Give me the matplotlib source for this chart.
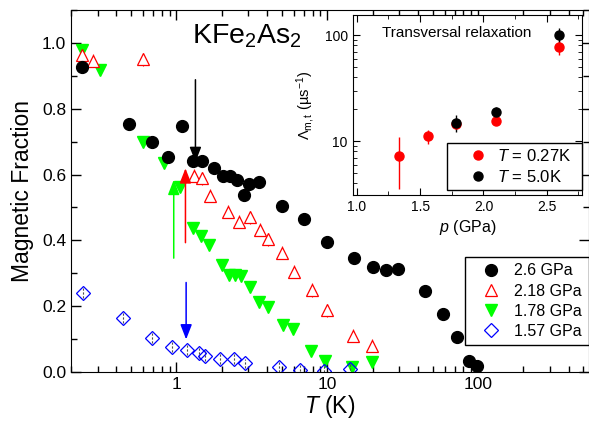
import numpy as np
import matplotlib.pyplot as plt
from matplotlib.ticker import FixedLocator, LogLocator, MultipleLocator, NullFormatter

plt.rcParams['font.family'] = ['Liberation Sans', 'DejaVu Sans']
plt.rcParams['mathtext.fontset'] = 'custom'
plt.rcParams['mathtext.rm'] = 'Liberation Sans'
plt.rcParams['mathtext.it'] = 'Liberation Sans:italic'
plt.rcParams['mathtext.bf'] = 'Liberation Sans:bold'

# magnetic fraction vs temperature, one set per pressure
T_260 = [0.238, 0.487, 0.690, 0.875, 1.091, 1.283, 1.482, 1.769, 2.030, 2.274, 2.531,
         2.801, 3.022, 3.507, 5.04, 6.98, 10.03, 15.0, 20.2, 24.7, 29.5, 44.4, 58.8,
         72.9, 87.1, 98.0]
mf_260 = [0.928, 0.755, 0.700, 0.653, 0.748, 0.641, 0.641, 0.619, 0.597, 0.597, 0.584,
          0.538, 0.570, 0.577, 0.505, 0.464, 0.396, 0.345, 0.320, 0.310, 0.312, 0.246,
          0.176, 0.105, 0.034, 0.019]

T_218 = [0.237, 0.278, 0.597, 1.317, 1.482, 1.670, 2.193, 2.594, 3.089, 3.561, 4.044,
         5.04, 5.99, 7.97, 9.97, 14.8, 19.7]
mf_218 = [0.963, 0.946, 0.950, 0.596, 0.589, 0.536, 0.487, 0.457, 0.470, 0.432, 0.403,
          0.363, 0.305, 0.249, 0.188, 0.110, 0.080]

T_178 = [0.237, 0.311, 0.597, 0.832, 1.058, 1.283, 1.459, 1.657, 2.012, 2.226, 2.429,
         2.691, 3.055, 3.523, 4.044, 5.09, 5.93, 7.8, 9.7, 14.7, 19.8]
mf_178 = [0.979, 0.918, 0.700, 0.634, 0.561, 0.437, 0.413, 0.386, 0.325, 0.295, 0.295,
          0.292, 0.259, 0.214, 0.197, 0.143, 0.130, 0.063, 0.034, 0.016, 0.031]

T_157 = [0.241, 0.440, 0.690, 0.936, 1.178, 1.422, 1.558, 1.951, 2.392, 2.861, 4.78,
         6.64, 9.48, 14.1]
mf_157 = [0.239, 0.165, 0.102, 0.077, 0.067, 0.059, 0.049, 0.039, 0.039, 0.026, 0.016,
          0.006, 0.004, 0.008]

# transition arrows: (T, tail, head, colour)
arrows = [(1.337, 0.888, 0.638, 'black'),
          (1.148, 0.393, 0.619, 'red'),
          (0.96, 0.346, 0.584, '#00ff00'),
          (1.16, 0.272, 0.099, 'blue')]

# inset: transversal relaxation rate vs pressure
p_027 = [1.33, 1.56, 1.78, 2.10, 2.60]
lam_027 = [7.2, 11.1, 14.4, 15.5, 77.6]
err_027 = [3.7, 1.7, 1.5, 1.0, 12.5]
p_50 = [1.78, 2.10, 2.60]
lam_50 = [14.9, 18.7, 100.0]
err_50 = [2.8, 2.3, 17.0]

fig = plt.figure(figsize=(5.89, 4.24), dpi=100)
ax = fig.add_axes([71 / 589, 52 / 424, 517.5 / 589, 362 / 424])

green = '#00ff00'
ax.errorbar(T_178, mf_178, yerr=0.015, fmt='none', ecolor=green, elinewidth=0.8)
h178, = ax.plot(T_178, mf_178, 'v', color=green, ms=8.5, mec=green, ls='none',
                label='1.78 GPa')
ax.errorbar(T_218, mf_218, yerr=0.02, fmt='none', ecolor='red', elinewidth=0.8)
h218, = ax.plot(T_218, mf_218, '^', mfc='white', mec='red', mew=0.9, ms=9, ls='none',
                label='2.18 GPa')
h260, = ax.plot(T_260, mf_260, 'o', color='black', ms=8.5, ls='none', label='2.6 GPa')
eb = ax.errorbar(T_157, mf_157, yerr=0.015, fmt='none', ecolor='0.3', elinewidth=0.8)
eb[2][0].set_linestyle((0, (2, 1.5)))
h157, = ax.plot(T_157, mf_157, 'D', mfc='none', mec='blue', mew=0.9, ms=7.5, ls='none',
                label='1.57 GPa')

for t, y0, y1, c in arrows:
    ax.annotate('', xy=(t, y1), xytext=(t, y0),
                arrowprops=dict(arrowstyle='-|>,head_length=0.9,head_width=0.35',
                                color=c, lw=1.1, shrinkA=0, shrinkB=0))

ax.set_xscale('log')
ax.set_xlim(0.2, 540)
ax.set_ylim(0, 1.1)
ax.xaxis.set_major_locator(FixedLocator([1, 10, 100]))
ax.set_xticklabels(['1', '10', '100'])
ax.xaxis.set_minor_locator(LogLocator(base=10, subs=np.arange(2, 10)))
ax.xaxis.set_minor_formatter(NullFormatter())
ax.yaxis.set_minor_locator(MultipleLocator(0.1))
ax.set_yticks([0, 0.2, 0.4, 0.6, 0.8, 1.0])
ax.set_yticklabels(['0.0', '0.2', '0.4', '0.6', '0.8', '1.0'])
ax.tick_params(which='both', direction='in', top=True, right=True, labelsize=12.5)
ax.tick_params(which='major', length=7, width=1)
ax.tick_params(which='minor', length=4, width=1)
ax.set_xlabel('$T$ (K)', fontsize=16.5, labelpad=1)
ax.set_ylabel('Magnetic Fraction', fontsize=16.5, labelpad=6)

fig.text(192 / 589, 1 - 43 / 424, 'KFe$_2$As$_2$', fontsize=20.5, va='baseline')

ax.legend(handles=[h260, h218, h178, h157], loc='upper right',
          bbox_to_anchor=(1.0, 0.318), borderaxespad=0, fontsize=11.5,
          frameon=True, fancybox=False, edgecolor='black', framealpha=1,
          handlelength=2.5, handletextpad=0.2, labelspacing=0.33, borderpad=0.4)

# inset
ins = fig.add_axes([352.7 / 589, 229 / 424, 229.6 / 589, 180 / 424])
ins.errorbar(p_027, lam_027, yerr=err_027, fmt='none', ecolor='red', elinewidth=1)
ins.errorbar(p_50, lam_50, yerr=err_50, fmt='none', ecolor='black', elinewidth=1)
l027, = ins.plot(p_027, lam_027, 'o', color='red', ms=6.5, ls='none',
                 label='$T$ = 0.27K')
l50, = ins.plot(p_50, lam_50, 'o', color='black', ms=6.5, ls='none',
                label='$T$ = 5.0K')
ins.set_yscale('log')
ins.set_xlim(0.968, 2.78)
ins.set_ylim(3.1, 155)
ins.xaxis.set_major_locator(MultipleLocator(0.5))
ins.xaxis.set_minor_locator(MultipleLocator(0.25))
ins.set_yticks([10, 100])
ins.set_yticklabels(['10', '100'])
ins.yaxis.set_minor_locator(LogLocator(base=10, subs=np.arange(2, 10)))
ins.yaxis.set_minor_formatter(NullFormatter())
ins.tick_params(which='both', direction='in', top=True, right=True, labelsize=10)
ins.tick_params(which='major', length=5)
ins.tick_params(which='minor', length=3)
ins.set_xlabel('$p$ (GPa)', fontsize=11.5, labelpad=3)
ins.set_ylabel('Λ$_{\\rm m,t}$ (µs$^{-1}$)', fontsize=10.5)
ins.yaxis.set_label_coords(-0.157, 0.5)
ins.text(0.454, 0.9, 'Transversal relaxation', transform=ins.transAxes,
         ha='center', va='center', fontsize=11)
ins.legend(handles=[l027, l50], loc='lower left',
           bbox_to_anchor=(0.411, 0.028, 0.588, 0.256), mode='expand',
           borderaxespad=0, fontsize=12, frameon=True, fancybox=False,
           edgecolor='black', framealpha=1, handlelength=3.1, handletextpad=-0.4,
           labelspacing=0.3, borderpad=0.3)

plt.savefig('out.png', dpi=100)
